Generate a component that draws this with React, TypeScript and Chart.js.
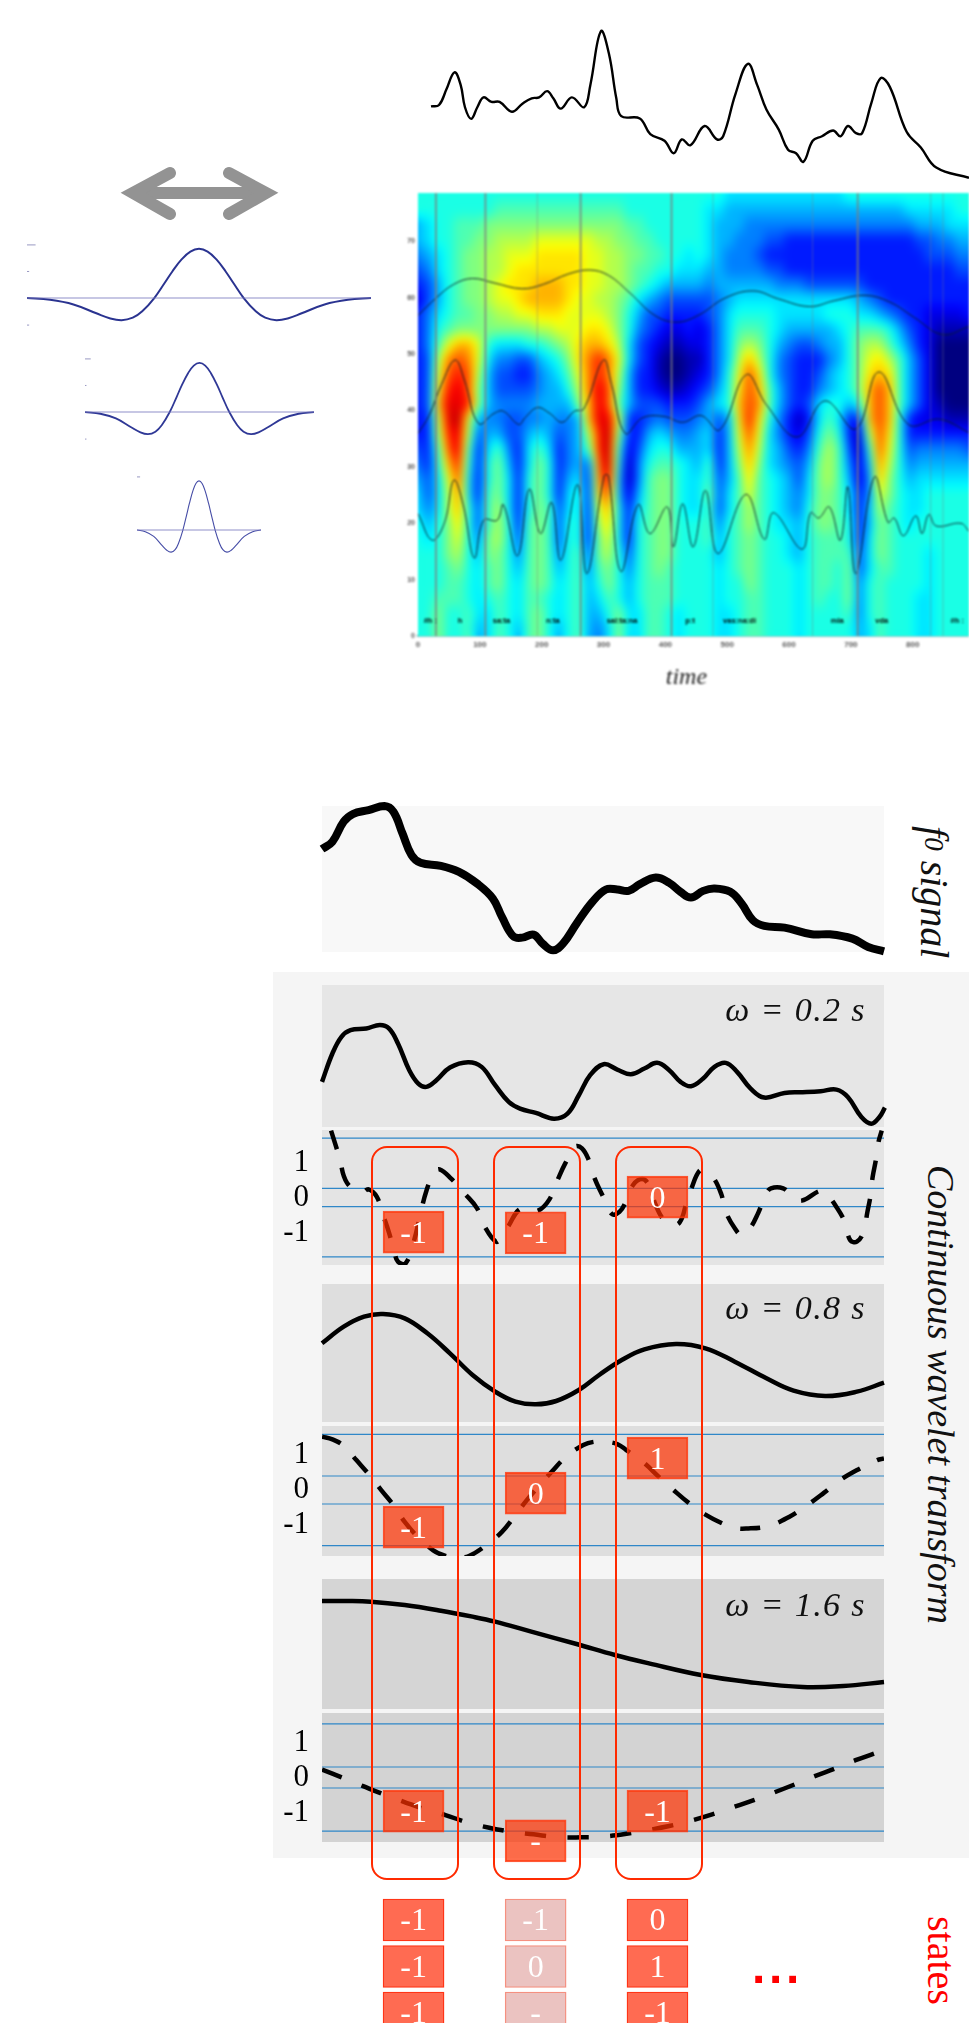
import React, { useEffect, useRef } from "react";
import { Chart, registerables } from "chart.js";
Chart.register(...registerables);

const SERIF = "'Liberation Serif', serif";

// ---------- top signal
const topTime = [697,710,722,735,745,752,762,772,782,795,808,828,845,860,872,885,895,907,925,945,955,972,985,997,1005,1035,1052,1075,1090,1103,1117,1140,1160,1170,1190,1210,1225,1240,1260,1275,1288,1300,1315,1330,1348,1360,1372,1385,1395,1410,1425,1440,1467,1490,1515,1568];
const topValue = [238,235,200,162,190,240,266,240,218,228,228,250,232,220,218,204,220,243,218,240,190,70,120,220,260,265,300,315,343,312,325,282,312,305,210,143,190,245,290,335,343,362,315,305,292,305,282,298,298,230,175,195,295,330,375,398];

// ---------- mother wavelet
const hatTime = [-1,-0.866,-0.73,-0.597,-0.52,-0.45,-0.385,-0.33,-0.26,-0.2,-0.155,-0.1,-0.05,0,0.05,0.1,0.155,0.2,0.26,0.33,0.385,0.45,0.52,0.597,0.73,0.866,1];
const hatValue = [0,-0.035,-0.13,-0.31,-0.41,-0.45,-0.4,-0.27,0,0.305,0.54,0.79,0.945,1,0.945,0.79,0.54,0.305,0,-0.27,-0.4,-0.45,-0.41,-0.31,-0.13,-0.035,0];

// ---------- scalogram
const heatRows = [
"8888888888888888888888888888"+"888"+"777777777777"+"8888888888888",
"8888888899999999999998888888"+"877666666666666666666"+"7777788",
"6788999aaaaaaaaaaaaaa9988888"+"87666"+"55555555555555555"+"666777",
"678899aabbbbccccccbbaa998888"+"8766555443333333333333445566",
"56789aabbcccdddddccbbaa99887"+"8765554"+"3333333333333333"+"44455",
"45789aabbcdddddddccbba998877"+"766555544"+"33333333333333333"+"44",
"34689aabcdddeeeddccbba987666"+"65666666"+"555"+"444444"+"33333333333",
"24689aabccdeeeedccbba9765444"+"4456"+"777777777777"+"654"+"333333333",
"357899aabbccdddccccba8644333"+"3457888877777888776543322223",
"3589aaaaaaaabbcccddca8543223"+"2357999876666678999864321111",
"359ceec8777889abdeedb7432112"+"2357aba865445668abb975320000",
"34bfgfc75544678adfhfc7431001"+"1357beb854333568acdb96420000",
"34cghgb644335679cfhfb6331001"+"2358cgd854334678aded96420000",
"34dhiga644445668bfiga6332112"+"3468dge964335678aege96420000",
"34eiiha655556666aeig96444333"+"4678egf9643478868ege96421000",
"33cijc65544556556eiic3345444"+"5646dhd8531379733ege83222111",
"33bhib46644676456bhja3367655"+"6736cgc753248a831bgd83333333",
"439gi9"+"3"+"79"+"53"+"797"+"356"+"9hj8"+"24"+"788"+"66"+"6736bfb7"+"6435"+"9b9"+"41"+"8gc"+"84"+"55555"+"4",
"538eh8"+"3"+"8a"+"63"+"7a8"+"356"+"4gj7"+"15"+"899"+"87"+"6936aea7"+"6546"+"ab9"+"52"+"6fb"+"85"+"666666",
"647cg7"+"3"+"8a"+"73"+"8a8"+"367"+"3fi6"+"15"+"9aa"+"87"+"79469d98"+"7647"+"ab9"+"62"+"5ea"+"86"+"777777",
"747bf7"+"3"+"9a"+"73"+"8a8"+"378"+"3eg6"+"26"+"9aa"+"87"+"7a479c98"+"7657"+"aa9"+"73"+"5ca"+"87"+"788888",
"757be8"+"4"+"9b"+"73"+"8a9"+"478"+"3ce7"+"37"+"9aa"+"87"+"79479b98"+"7658"+"aa9"+"73"+"6b9"+"87"+"788888",
"868ad8"+"4"+"9b"+"83"+"9a9"+"488"+"3bd7"+"38"+"9aa"+"88"+"89589b98"+"7768"+"aa9"+"83"+"6a9"+"87"+"888888",
"878ac8"+"5"+"ab"+"84"+"9a9"+"488"+"3ac7"+"38"+"9aa"+"88"+"89689a98"+"8768"+"999"+"83"+"7a9"+"88"+"888888",
"888ab8"+"6"+"aa"+"85"+"9a9"+"589"+"4ab8"+"48"+"9aa"+"88"+"88689a98"+"8768"+"999"+"94"+"7a9"+"88"+"878888",
"8889a8"+"7"+"9a"+"86"+"9a9"+"689"+"59a8"+"58"+"9a9"+"88"+"88789a98"+"8878"+"998"+"a4"+"799"+"88"+"878888",
"888998"+"7"+"9a"+"87"+"9a9"+"789"+"68a8"+"68"+"999"+"88"+"88788a98"+"8878"+"998"+"a5"+"898"+"88"+"878888",
"889998"+"7"+"89"+"87"+"998"+"789"+"6798"+"68"+"999"+"88"+"88788998"+"8878"+"988"+"a5"+"898"+"88"+"778888",
"88a889"+"7"+"79"+"87"+"9a8"+"789"+"668a"+"77"+"998"+"78"+"88778998"+"8878"+"888"+"95"+"898"+"88"+"778888",
"88a889"+"6"+"79"+"86"+"9a8"+"689"+"657a"+"77"+"998"+"78"+"88778998"+"8878"+"888"+"86"+"798"+"88"+"778888",
];
const heatColumnTimes = heatRows[0].split("").map((_, i) => i * 16.2);
const heatRowScales = heatRows.map((_, j) => 992 - j * 33.6);

const ridgeUpperTime = [0,30,58,88,123,168,203,243,278,308,343,383,418,453,498,543,583,633,673,723,763,803,848,891];
const ridgeUpperScale = [720,760,790,803,793,780,790,813,822,810,770,720,705,720,760,775,757,740,753,765,750,715,677,695];
const ridgeMiddleTime = [0,18,38,60,75,98,123,138,163,173,193,213,233,253,268,300,313,335,363,398,428,458,488,531,563,613,658,708,745,793,843,891];
const ridgeMiddleScale = [455,495,565,620,575,477,500,505,475,490,513,500,480,505,510,620,565,455,490,493,480,495,463,587,520,447,528,465,593,475,487,457];
const ridgeLowerTime = [0,23,43,58,73,91,106,128,138,161,180,198,216,231,258,273,301,308,328,356,375,403,413,428,445,465,485,530,560,575,621,635,648,665,683,695,708,738,760,770,785,805,815,826,838,878,891];
const ridgeLowerScale = [275,215,255,350,295,175,260,260,295,180,330,230,300,170,340,140,360,360,145,295,230,290,200,297,200,327,185,318,217,277,195,277,265,290,215,335,140,357,255,265,225,270,230,273,247,253,235];

const markTimes = [29,109,263,410,711];
const faintMarkTimes = [193,477,638,829,849];
const syllables = ["#h :","h","sa:ta","n:ta","sal:ta:na","p:t","vas:na:di","mla","vda","#h :"];
const syllableTimes = [20,68,135,218,330,440,520,678,750,872];
const timeTicks = [0,100,200,300,400,500,600,700,800];
const scaleTicks = [0,126.6,253.2,379.8,506.4,633,759.6,886.2];

// ---------- f0 and wavelet panels (shared time axis)
const f0Time = [137,160,185,205,240,275,295,315,335,355,400,440,480,515,535,560,580,605,625,648,670,700,735,765,790,815,840,875,905,930,953,980,1005,1040,1065,1090,1115,1160,1220,1260,1310,1345,1380];
const f0Value = [207,185,125,102,90,78,95,160,225,248,257,275,310,355,410,468,472,463,490,510,490,430,365,328,328,332,312,292,308,335,352,332,325,335,370,420,437,442,462,462,475,500,513];

const w02Time = [137,160,180,200,235,265,285,305,330,350,368,390,420,460,490,520,550,575,610,650,680,705,730,760,790,820,850,878,905,930,953,980,1005,1030,1055,1085,1115,1160,1200,1240,1275,1300,1330,1352,1370,1382];
const w02Value = [905,820,770,750,745,735,745,790,870,910,920,900,862,846,860,915,965,985,998,1015,1000,945,885,852,868,882,865,848,870,905,918,895,860,848,875,925,952,938,936,933,928,950,1010,1030,1010,982];
const w02ChangeTime = [157,175,192,225,240,258,272,285,297,305,322,340,355,368,385,397,422,452,480,497,522,535,550,572,590,615,640,658,675,697,712,727,740,757,778,795,808,825,845,860,875,893,910,928,942,955,972,985,1002,1020,1030,1050,1065,1082,1102,1118,1130,1157,1178,1198,1240,1255,1272,1292,1305,1320,1335,1343,1350,1355,1362,1368,1375];
const w02ChangeValue = [1052,1130,1208,1237,1228,1250,1305,1357,1415,1445,1450,1385,1300,1232,1178,1168,1195,1240,1285,1340,1385,1370,1337,1290,1288,1292,1258,1200,1150,1100,1105,1140,1195,1245,1302,1295,1268,1215,1197,1215,1275,1320,1335,1327,1275,1222,1172,1175,1192,1242,1295,1345,1365,1348,1298,1245,1225,1225,1250,1262,1232,1245,1275,1322,1380,1385,1355,1298,1248,1190,1140,1085,1052];

const w08Time = [137,185,230,272,320,370,420,470,520,565,610,655,705,750,800,850,920,985,1050,1120,1180,1250,1320,1380];
const w08Value = [220,170,140,132,145,190,250,315,365,395,403,393,360,315,270,238,222,235,275,325,362,378,365,338];
const w08ChangeTime = [137,160,185,213,242,268,297,320,347,383,410,436,462,500,535,563,590,612,645,677,715,740,763,790,810,848,882,913,948,985,1028,1050,1075,1125,1170,1210,1247,1283,1323,1365,1380];
const w08ChangeValue = [500,508,527,570,615,660,708,755,797,840,857,862,857,825,785,738,690,655,605,560,525,515,515,522,540,577,620,658,698,733,763,773,775,767,740,705,668,630,598,570,565];

const w16Time = [137,190,245,320,400,470,520,600,700,785,860,975,1080,1200,1290,1380];
const w16Value = [993,993,995,1005,1022,1040,1055,1085,1122,1155,1180,1215,1236,1251,1248,1236];
const w16ChangeTime = [137,183,228,272,318,365,410,458,507,555,605,655,710,755,807,855,905,950,1000,1045,1092,1137,1182,1227,1272,1317,1362,1380];
const w16ChangeValue = [358,383,408,432,455,478,495,517,533,545,553,561,562,560,552,541,528,513,493,472,450,427,403,378,355,330,308,298];

const bandLimits02 = [1.7,0.26,-0.26,-1.7];
const bandLimits08 = [1.59,0.4,-0.4,-1.59];
const bandLimits16 = [1.53,0.3,-0.3,-1.53];

const windowCenters = [339.5,609.5,879];
const stateLevels02 = [-0.99,-1.01,0.01];
const stateText02 = ["-1","-1","0"];
const stateLevels08 = [-1.06,-0.09,0.91];
const stateText08 = ["-1","0","1"];
const stateLevels16 = [-0.96,-1.81,-0.96];
const stateText16 = ["-1","-","-1"];

const sequenceText = [
  ["-1","-1","-1"],
  ["-1","0","-"],
  ["0","1","-1"],
];
const sequenceFaded = [false,true,false];

const FRAME_LEFTS = [371,493,615];

function jet(f) {
  const c = (x) => Math.max(0, Math.min(1, x));
  return [c(1.5 - Math.abs(4 * f - 3)), c(1.5 - Math.abs(4 * f - 2)), c(1.5 - Math.abs(4 * f - 1))].map((v) => Math.round(v * 255));
}

const zip = (xs, ys) => xs.map((x, i) => ({ x, y: ys[i] }));

const basePlugins = { legend: { display: false }, tooltip: { enabled: false } };
const baseOptions = { responsive: false, animation: false, events: [], devicePixelRatio: 1 };
const noEdgePadding = (s) => { s.paddingTop = 0; s.paddingBottom = 0; s.paddingLeft = 0; s.paddingRight = 0; };

const panelFill = (color) => ({
  id: "panelFill",
  beforeDraw(chart) {
    const { ctx, chartArea: a } = chart;
    ctx.save();
    ctx.fillStyle = color;
    ctx.fillRect(a.left, a.top, a.right - a.left, a.bottom - a.top);
    ctx.restore();
  },
});

const cellLabels = {
  id: "cellLabels",
  afterDatasetsDraw(chart) {
    const { ctx } = chart;
    chart.data.datasets.forEach((ds, i) => {
      if (!ds.cellText) return;
      chart.getDatasetMeta(i).data.forEach((el, k) => {
        ctx.save();
        ctx.font = `32px ${SERIF}`;
        ctx.fillStyle = "#ffffff";
        ctx.textAlign = "center";
        ctx.textBaseline = "middle";
        ctx.fillText(ds.cellText[k], el.x, (el.y + el.base) / 2 + 2);
        ctx.restore();
      });
    });
  },
};

function ChartBox({ left, top, width, height, config, filter }: any) {
  const ref = useRef(null);
  useEffect(() => {
    const chart = new Chart(ref.current, config);
    return () => chart.destroy();
  }, []);
  return (
    <canvas
      ref={ref}
      width={width}
      height={height}
      style={{ position: "absolute", left, top, width, height, display: "block", filter: filter || "none" }}
    />
  );
}

function signalConfig(time, value, xMin, xMax, yMin, yMax, lineWidth, padding, bg) {
  return {
    type: "line",
    data: {
      datasets: [
        {
          data: zip(time, value),
          borderColor: "#000",
          borderWidth: lineWidth,
          pointRadius: 0,
          tension: 0.4,
          borderJoinStyle: "round",
          clip: false,
        },
      ],
    },
    options: {
      ...baseOptions,
      layout: { padding },
      plugins: basePlugins,
      scales: {
        x: { type: "linear", display: false, min: xMin, max: xMax },
        y: { type: "linear", display: false, min: yMin, max: yMax, reverse: true },
      },
    },
    plugins: bg ? [panelFill(bg)] : [],
  };
}

function hatConfig(lineWidth, lineColor, tickSize) {
  const tickY = [1.08, 0.54, -0.55];
  const ticks = [];
  tickY.forEach((v, i) => {
    ticks.push({ x: -1, y: v }, { x: -1 + (i === 0 ? tickSize : tickSize / 4), y: v }, { x: -1, y: null });
  });
  return {
    type: "line",
    data: {
      datasets: [
        { data: ticks, borderColor: "rgba(110,110,170,0.7)", borderWidth: 1, pointRadius: 0, spanGaps: false, clip: false },
        { data: [{ x: -1, y: 0 }, { x: 1, y: 0 }], borderColor: "rgba(120,120,190,0.55)", borderWidth: 1.6, pointRadius: 0 },
        { data: zip(hatTime, hatValue), borderColor: lineColor, borderWidth: lineWidth, pointRadius: 0, tension: 0.4, clip: false },
      ],
    },
    options: {
      ...baseOptions,
      layout: { padding: 0 },
      plugins: basePlugins,
      scales: {
        x: { type: "linear", display: false, min: -1, max: 1 },
        y: { type: "linear", display: false, min: -0.65, max: 1.18 },
      },
    },
  };
}

function changeConfig({ time, value, rawMin, rawMax, yMin, yMax, limits, centers, levels, text, bg, dash, bottomPad }: any) {
  return {
    type: "line",
    data: {
      datasets: [
        ...limits.map((v) => ({
          data: [{ x: 137, y: v }, { x: 1380, y: v }],
          borderColor: "#2f87c8",
          borderWidth: 1.2,
          pointRadius: 0,
          order: 3,
        })),
        {
          data: zip(time, value),
          yAxisID: "yRaw",
          borderColor: "#000",
          borderWidth: 4.5,
          borderDash: dash,
          pointRadius: 0,
          tension: 0.4,
          order: 2,
        },
        {
          type: "bar",
          data: centers.map((c, i) => ({ x: c, y: [levels[i] - 0.6, levels[i] + 0.6] })),
          backgroundColor: "rgba(255,48,0,0.7)",
          borderColor: "rgba(255,60,20,0.85)",
          borderWidth: 1.2,
          borderSkipped: false,
          barThickness: 61,
          clip: false,
          cellText: text,
          order: 1,
        },
      ],
    },
    options: {
      ...baseOptions,
      layout: { padding: { left: 0, right: 6, top: 4, bottom: bottomPad } },
      plugins: basePlugins,
      scales: {
        x: { type: "linear", display: false, min: 137, max: 1380, offset: false },
        y: {
          type: "linear",
          min: yMin,
          max: yMax,
          afterFit: (s) => { s.width = 49; noEdgePadding(s); },
          afterBuildTicks: (s) => { s.ticks = [{ value: 1 }, { value: 0 }, { value: -1 }]; },
          grid: { display: false, drawTicks: false },
          border: { display: false },
          ticks: {
            autoSkip: false,
            padding: 13,
            color: "#000",
            font: { family: "Liberation Serif", size: 31 },
            callback: (v) => String(v),
          },
        },
        yRaw: { type: "linear", display: false, position: "right", min: rawMin, max: rawMax, reverse: true },
      },
    },
    plugins: [panelFill(bg), cellLabels],
  };
}

const heatPainter = {
  id: "heatPainter",
  beforeDatasetsDraw(chart) {
    const { ctx, chartArea: a, scales } = chart;
    const w = Math.round(a.right - a.left);
    const h = Math.round(a.bottom - a.top);
    const img = ctx.createImageData(w, h);
    const grid = heatRows.map((r) => r.split("").map((c) => parseInt(c, 36) / 20));
    const dt = heatColumnTimes[1];
    const ds = heatRowScales[0] - heatRowScales[1];
    for (let py = 0; py < h; py++) {
      const sv = scales.y.getValueForPixel(a.top + py);
      const fy = Math.max(0, Math.min(grid.length - 1.001, (heatRowScales[0] - sv) / ds));
      const j = Math.floor(fy);
      const ty = fy - j;
      for (let px = 0; px < w; px++) {
        const tv = scales.x.getValueForPixel(a.left + px);
        const fx = Math.max(0, Math.min(grid[0].length - 1.001, tv / dt));
        const i = Math.floor(fx);
        const tx = fx - i;
        const g = (jj, ii) => { const v = grid[jj][ii]; return v === undefined || isNaN(v) ? 0.4 : v; };
        const v =
          g(j, i) * (1 - tx) * (1 - ty) + g(j, i + 1) * tx * (1 - ty) + g(j + 1, i) * (1 - tx) * ty + g(j + 1, i + 1) * tx * ty;
        const [r, gg, b] = jet(v);
        const o = (py * w + px) * 4;
        img.data[o] = r; img.data[o + 1] = gg; img.data[o + 2] = b; img.data[o + 3] = 255;
      }
    }
    const off = document.createElement("canvas");
    off.width = w; off.height = h;
    off.getContext("2d").putImageData(img, 0, 0);
    ctx.drawImage(off, a.left, a.top);
    ctx.save();
    ctx.beginPath();
    ctx.rect(a.left, a.top, w, h);
    ctx.clip();
    ctx.filter = "blur(4px)";
    ctx.drawImage(off, a.left, a.top);
    ctx.restore();
  },
  afterDatasetsDraw(chart) {
    const { ctx, scales } = chart;
    ctx.save();
    ctx.fillStyle = "#000";
    ctx.font = "bold 7.5px 'Liberation Sans'";
    ctx.textAlign = "center";
    ctx.textBaseline = "middle";
    syllables.forEach((s, i) => {
      ctx.fillText(s, scales.x.getPixelForValue(syllableTimes[i]), scales.y.getPixelForValue(34));
    });
    ctx.fillStyle = "#222";
    ctx.font = `italic 24px ${SERIF}`;
    ctx.textBaseline = "alphabetic";
    ctx.fillText("time", scales.x.getPixelForValue(434), 491);
    ctx.translate(scales.y.left - 31 + 49 - 38 + 8, scales.y.getPixelForValue(517));
    ctx.rotate(-Math.PI / 2);
    ctx.textBaseline = "middle";
    ctx.fillText("scale", 0, 0);
    ctx.restore();
  },
};

const heatCells = [];
heatRows.forEach((row, j) => row.split("").forEach((c, i) => heatCells.push({ x: heatColumnTimes[i], y: heatRowScales[j], v: parseInt(c, 36) })));

const heatConfig = {
  type: "scatter",
  data: {
    datasets: [
      { data: heatCells, pointRadius: 0, showLine: false },
      ...markTimes.map((t) => ({ type: "line", data: [{ x: t, y: 0 }, { x: t, y: 995 }], borderColor: "rgba(125,125,125,0.9)", borderWidth: 1.6, pointRadius: 0 })),
      ...faintMarkTimes.map((t) => ({ type: "line", data: [{ x: t, y: 0 }, { x: t, y: 995 }], borderColor: "rgba(125,125,125,0.4)", borderWidth: 1.1, pointRadius: 0 })),
      ...[[ridgeUpperTime, ridgeUpperScale], [ridgeMiddleTime, ridgeMiddleScale], [ridgeLowerTime, ridgeLowerScale]].map(([t, s]) => ({
        type: "line",
        data: zip(t, s),
        borderColor: "rgba(10,30,40,0.95)",
        borderWidth: 1,
        pointRadius: 0,
        tension: 0.4,
      })),
    ],
  },
  options: {
    ...baseOptions,
    layout: { padding: 0 },
    plugins: basePlugins,
    scales: {
      x: {
        type: "linear",
        min: 0,
        max: 891,
        afterFit: (s) => { s.height = 64; noEdgePadding(s); },
        afterBuildTicks: (s) => { s.ticks = timeTicks.map((value) => ({ value })); },
        grid: { display: false, tickLength: 3, tickColor: "#555" },
        border: { color: "#1f8a8a", width: 1.5 },
        ticks: { maxRotation: 0, autoSkip: false, padding: 1, color: "#555", font: { family: "Liberation Sans", size: 8, weight: "bold" } },
      },
      y: {
        type: "linear",
        min: 0,
        max: 995,
        afterFit: (s) => { s.width = 38; noEdgePadding(s); },
        afterBuildTicks: (s) => { s.ticks = scaleTicks.map((value) => ({ value })); },
        grid: { display: false, tickLength: 2, tickColor: "#555" },
        border: { display: false },
        ticks: { autoSkip: false, padding: 1, color: "#555", font: { family: "Liberation Sans", size: 7, weight: "bold" }, callback: (v) => String(Math.round(v / 12.66)) },
      },
    },
  },
  plugins: [heatPainter],
};

const sequenceCells = [];
sequenceText.forEach((col, c) => col.forEach((_, r) => sequenceCells.push({ x: windowCenters[c], y: [r - 0.452, r + 0.452] })));

const sequenceConfig = {
  type: "bar",
  data: {
    datasets: [
      {
        data: sequenceCells,
        backgroundColor: sequenceText.flatMap((col, c) => col.map(() => (sequenceFaded[c] ? "#ebc3c1" : "#ff6b52"))),
        borderColor: sequenceText.flatMap((col, c) => col.map(() => (sequenceFaded[c] ? "#f59080" : "#ff3517"))),
        borderWidth: 1.4,
        borderSkipped: false,
        barThickness: 61,
        clip: false,
        cellText: sequenceText.flat(),
      },
    ],
  },
  options: {
    ...baseOptions,
    layout: { padding: 0 },
    plugins: basePlugins,
    scales: {
      x: { type: "linear", display: false, min: 137, max: 1380, offset: false },
      y: { type: "linear", display: false, reverse: true, min: -0.645, max: 2.58 },
    },
  },
  plugins: [cellLabels],
};

const abs = (s: any) => ({ position: "absolute", whiteSpace: "nowrap", ...s });

function Omega({ text, top }: any) {
  return (
    <div style={abs({ right: 969 - 866, top, font: `italic 34px ${SERIF}`, lineHeight: "40px", letterSpacing: "1.4px", color: "#111" })}>{text}</div>
  );
}

export default function App() {
  return (
    <div style={{ position: "absolute", left: 0, top: 0, width: 969, height: 2023, overflow: "hidden", background: "#fff" }}>
      <ChartBox left={425} top={20} width={544} height={170} config={signalConfig(topTime, topValue, 697, 1568, 56, 414, 2.4, { left: 6, right: 0, top: 5, bottom: 5 }, null)} filter="blur(0.4px)" />

      <svg width={320} height={60} style={{ position: "absolute", left: 0, top: 165 }} viewBox="0 165 320 60">
        <g fill="none" stroke="#939393" strokeWidth={12} strokeLinecap="round" strokeLinejoin="miter" strokeMiterlimit={10}>
          <path d="M133 193 H266" strokeLinecap="butt" />
          <path d="M170 173 L133 193 L170 214" />
          <path d="M229 173 L266 193 L229 214" />
        </g>
      </svg>

      <ChartBox left={27} top={240} width={344} height={90} config={hatConfig(2, "#2a3390", 0.05)} filter="blur(0.35px)" />
      <ChartBox left={85} top={354} width={229} height={90} config={hatConfig(1.8, "#2f3896", 0.05)} filter="blur(0.35px)" />
      <ChartBox left={137} top={472} width={124} height={90} config={hatConfig(1.1, "#454ca6", 0.05)} filter="blur(0.3px)" />

      <ChartBox left={380} top={193} width={589} height={507} config={heatConfig} filter="blur(0.8px)" />

      <ChartBox left={316} top={800} width={574} height={158} config={signalConfig(f0Time, f0Value, 137, 1380, 78, 515, 8, 6, "#f8f8f8")} />

      <div style={abs({ left: 273, top: 972, width: 696, height: 886, background: "#f5f5f5" })} />

      <ChartBox left={316} top={979} width={574} height={154} config={signalConfig(w02Time, w02Value, 137, 1380, 615, 1040, 4.5, 6, "#e6e6e6")} />
      <ChartBox left={273} top={1126} width={617} height={143} config={changeConfig({ time: w02ChangeTime, value: w02ChangeValue, rawMin: 1050, rawMax: 1455, yMin: -1.93, yMax: 1.93, limits: bandLimits02, centers: windowCenters, levels: stateLevels02, text: stateText02, bg: "#e4e4e4", dash: [19.5, 19], bottomPad: 4 })} />

      <ChartBox left={316} top={1278} width={574} height={150} config={signalConfig(w08Time, w08Value, 137, 1380, 42, 456, 4.5, 6, "#dedede")} />
      <ChartBox left={273} top={1422} width={617} height={138} config={changeConfig({ time: w08ChangeTime, value: w08ChangeValue, rawMin: 468, rawMax: 857, yMin: -1.886, yMax: 1.829, limits: bandLimits08, centers: windowCenters, levels: stateLevels08, text: stateText08, bg: "#dedede", dash: [20, 19], bottomPad: 4 })} />

      <ChartBox left={316} top={1573} width={574} height={142} config={signalConfig(w16Time, w16Value, 137, 1380, 927, 1317, 4.5, 6, "#d5d5d5")} />
      <ChartBox left={273} top={1709} width={617} height={157} config={changeConfig({ time: w16ChangeTime, value: w16ChangeValue, rawMin: 188, rawMax: 576, yMin: -1.843, yMax: 1.843, limits: bandLimits16, centers: windowCenters, levels: stateLevels16, text: stateText16, bg: "#d3d3d3", dash: [21.3, 21.4], bottomPad: 24 })} />

      {FRAME_LEFTS.map((l) => (
        <div key={l} style={abs({ left: l, top: 1146, width: 88, height: 734, boxSizing: "border-box", border: "2px solid #ff2a00", borderRadius: 16 })} />
      ))}

      <ChartBox left={322} top={1890} width={562} height={150} config={sequenceConfig} />

      <Omega text="ω = 0.2 s" top={990} />
      <Omega text="ω = 0.8 s" top={1288} />
      <Omega text="ω = 1.6 s" top={1585} />

      <div style={abs({ left: 913, top: 826, writingMode: "vertical-rl", font: `italic 40px ${SERIF}`, lineHeight: "42px", color: "#111" })}>
        f<span style={{ fontSize: 27 }}>0</span> signal
      </div>
      <div style={abs({ left: 920, top: 1165, writingMode: "vertical-rl", font: `italic 38px ${SERIF}`, lineHeight: "42px", letterSpacing: "-0.05px", color: "#111" })}>
        Continuous wavelet transform
      </div>
      <div style={abs({ left: 920, top: 1916, writingMode: "vertical-rl", font: `40px ${SERIF}`, lineHeight: "42px", color: "#ff0000" })}>states</div>
      <div style={abs({ left: 752, top: 1940, font: "bold 48px 'Liberation Sans'", lineHeight: "54px", letterSpacing: "3.7px", color: "#ff0000" })}>...</div>
    </div>
  );
}
